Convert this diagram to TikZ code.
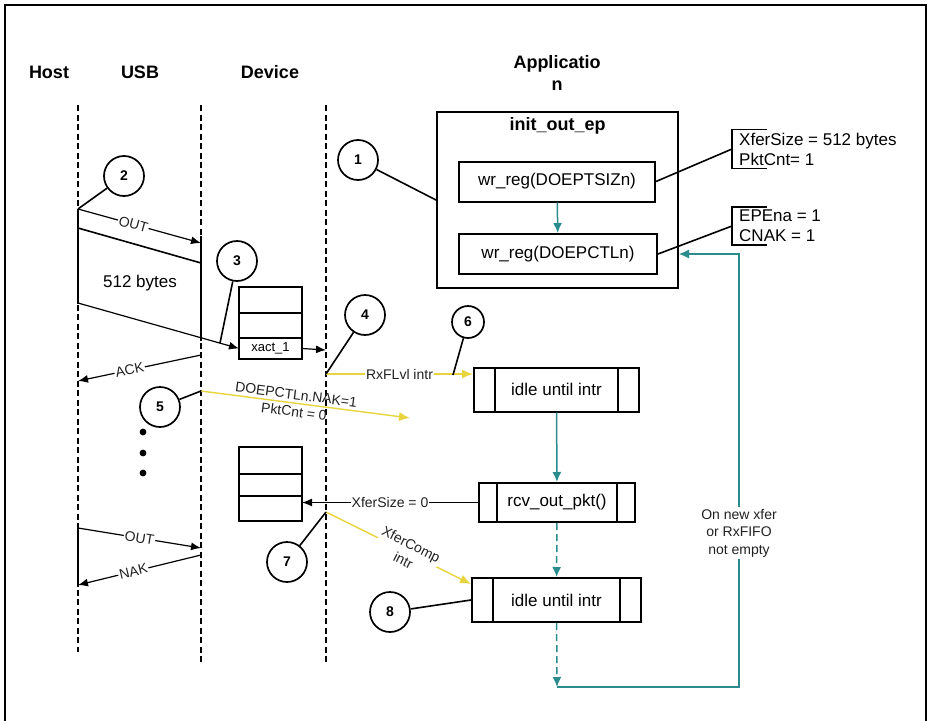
\documentclass[tikz,border=0pt]{standalone}
\usepackage{fontspec}
\setmainfont{Liberation Sans}
\usetikzlibrary{arrows.meta,positioning}
\definecolor{usbTeal}{HTML}{2A8C8C}
\definecolor{usbYellow}{HTML}{E8D43C}
\definecolor{usbInk}{HTML}{222222}

\begin{document}
\begin{tikzpicture}[x=1pt,y=-1pt,
    lane/.style={line width=2.2pt, dash pattern=on 6pt off 3.5pt},
    num/.style={draw, circle, line width=1.7pt, minimum size=40pt, inner sep=0pt,
      font=\fontsize{14}{14}\selectfont\bfseries},
    blk/.style={draw, line width=2pt, minimum height=40pt, font=\fontsize{17}{20}\selectfont},
    proc/.style={blk, minimum height=44pt},
    cell/.style={draw, line width=1.7pt, minimum width=63pt, inner sep=0pt, outer sep=0pt,
      font=\fontsize{13}{13}\selectfont},
    lbl/.style={font=\fontsize{14}{16}\selectfont, text=usbInk, fill=white, inner sep=1pt},
    ttl/.style={font=\fontsize{18}{22}\selectfont\bfseries, align=center},
    note/.style={font=\fontsize{17}{20}\selectfont, align=left, inner xsep=7pt, inner ysep=3pt},
    msg/.style={-{Latex[length=10pt,width=8pt]}, line width=1.2pt},
    ylw/.style={-{Latex[length=11pt,width=9pt]}, line width=1.4pt, usbYellow},
    tel/.style={-{Latex[length=10pt,width=9pt]}, line width=1.5pt, usbTeal},
    lead/.style={line width=1.6pt}]
  \useasboundingbox (0,0) rectangle (928,720);
  \draw[line width=1.2pt] (5,722) -- (5,5) -- (926,5) -- (926,722);

  % column titles and lifelines
  \node[ttl] (host) at (49,72) {Host};
  \node[ttl] (usb) at (140,72) {USB};
  \node[ttl] (dev) at (270,72) {Device};
  \node[ttl] (app) at (557,73) {Applicatio\\n};
  \coordinate (hostT) at (78,105);  \coordinate (hostB) at (78,652);
  \coordinate (usbT) at (201,105);  \coordinate (usbB) at (201,663);
  \coordinate (devT) at (326,105);  \coordinate (devB) at (326,663);
  \draw[lane] (hostT) -- (hostB);
  \draw[lane] (usbT) -- (usbB);
  \draw[lane] (devT) -- (devB);
  \draw[line width=2.2pt] (78,209) -- (78,304) (78,528) -- (78,587);
  \draw[line width=2.2pt] (201,236) -- (201,341);

  % application side
  \node[draw, line width=2pt, minimum width=241pt, minimum height=176pt] (init) at (557.5,200) {};
  \node[font=\fontsize{18}{20}\selectfont\bfseries, below=3pt of init.north] (initT) {init\_out\_ep};
  \node[blk, minimum width=196pt] (tsiz) at (557,181.5) {wr\_reg(DOEPTSIZn)};
  \node[blk, minimum width=198pt] (ctl) at (558,254) {wr\_reg(DOEPCTLn)};
  \draw[tel] (tsiz) -- (ctl);

  \node[note, anchor=west] (sizN) at (732,149) {XferSize = 512 bytes\\PktCnt= 1};
  \node[note, anchor=west] (ctlN) at (732,226) {EPEna = 1\\CNAK = 1};
  \draw[lead] ([xshift=35pt]sizN.north west) -| (sizN.south west) -- ++(35,0);
  \draw[lead] ([xshift=35pt]ctlN.north west) -| (ctlN.south west) -- ++(35,0);
  \draw[lead] (tsiz.east) -- (sizN.west);
  \draw[lead] (ctl.east) -- (ctlN.west);

  \node[proc, minimum width=165pt] (idleA) at (556.5,389.5) {idle until intr};
  \node[blk, minimum width=156pt, minimum height=39pt] (rcv) at (557,502.5) {rcv\_out\_pkt()};
  \node[proc, minimum width=169pt] (idleB) at (556.5,600) {idle until intr};
  \foreach \b/\d in {idleA/22pt, rcv/19pt, idleB/22pt} {
    \draw[line width=2pt] ([xshift=\d]\b.north west) -- ([xshift=\d]\b.south west);
    \draw[line width=2pt] ([xshift=-\d]\b.north east) -- ([xshift=-\d]\b.south east);
  }
  \coordinate (loopB) at (557,687);
  \draw[tel] (idleA) -- (rcv);
  \draw[tel, dash pattern=on 7pt off 4pt] (rcv) -- (idleB);
  \draw[tel, dash pattern=on 7pt off 4pt] (idleB) -- (loopB);
  \draw[-{Latex[length=10pt,width=9pt]}, line width=1.1pt, usbTeal]
    (loopB) -- (739,687) |- (init.east |- ctl.east);
  \node[lbl, align=center, inner sep=2pt, font=\fontsize{14}{17.5}\selectfont] (cond) at (739,533)
    {On new xfer\\or RxFIFO\\not empty};

  % host / usb exchange
  \coordinate (h1) at (78,209);  \coordinate (u1) at (201,243);
  \coordinate (h2) at (78,228);  \coordinate (u2) at (201,263);
  \coordinate (h3) at (78,303);
  \coordinate (u3) at (201,355); \coordinate (h4) at (78,381);
  \coordinate (u4) at (201,391); \coordinate (nakEnd) at (410,418);
  \coordinate (h5) at (78,528);  \coordinate (u5) at (201,548);
  \coordinate (u6) at (201,555); \coordinate (h6) at (78,585);
  \coordinate (d1) at (326,350); \coordinate (d2) at (326,374);
  \coordinate (d3) at (326,512);

  \node[cell, minimum height=26pt] (fa1) at (270.5,300) {};
  \node[cell, minimum height=25pt, below=0pt of fa1] (fa2) {};
  \node[cell, minimum height=21pt, below=0pt of fa2] (xact) {xact\_1};
  \node[cell, minimum height=27pt] (fb1) at (270.5,460.5) {};
  \node[cell, minimum height=22pt, below=0pt of fb1] (fb2) {};
  \node[cell, minimum height=25pt, below=0pt of fb2] (fb3) {};

  \draw[msg] (h1) -- (u1) node[pos=0.45, sloped, lbl] {OUT};
  \draw[lead] (h2) -- (u2);
  \draw[msg] (h3) -- (xact.west);
  \node[font=\fontsize{17}{20}\selectfont] (bytes) at (140,283) {512 bytes};
  \draw[msg] (xact.east) -- (d1);
  \draw[msg] (u3) -- (h4) node[pos=0.58, sloped, lbl] {ACK};
  \draw[ylw] (u4) -- (nakEnd) node[pos=0.45, sloped, align=center, text=usbInk,
    font=\fontsize{14}{17}\selectfont] {DOEPCTLn.NAK=1\\PktCnt = 0};
  \foreach \y in {432,453,473} \fill (143,\y) circle (3.4pt);
  \draw[ylw] (d2) -- (d2 -| idleA.west) node[pos=0.5, lbl] {RxFLvl intr};
  \draw[msg] (rcv.west) -- (rcv.west -| fb3.east) node[midway, lbl] {XferSize = 0};
  \draw[ylw] (d3) -- ([yshift=-7pt]idleB.north west) node[pos=0.56, sloped, lbl, align=center,
    font=\fontsize{14}{18}\selectfont] {XferComp\\intr};
  \draw[msg] (h5) -- (u5) node[pos=0.5, sloped, lbl] {OUT};
  \draw[msg] (u6) -- (h6) node[pos=0.55, sloped, lbl] {NAK};

  % numbered callouts
  \node[num] (one) at (358,160) {1};
  \node[num] (two) at (124,176) {2};
  \node[num] (three) at (237,261) {3};
  \node[num] (four) at (365,315) {4};
  \node[num] (five) at (160,407) {5};
  \node[num, minimum size=32pt] (six) at (468,322) {6};
  \node[num] (seven) at (287,562) {7};
  \node[num] (eight) at (390,612) {8};
  \coordinate (c3) at (220,343);
  \coordinate (c6) at (453,375);
  \draw[lead] (one) -- (init.west);
  \draw[lead] (two) -- (h1);
  \draw[lead] (three) -- (c3);
  \draw[lead] (four) -- (d2);
  \draw[lead] (five) -- (u4);
  \draw[lead] (six) -- (c6);
  \draw[lead] (seven) -- (d3);
  \draw[lead] (eight) -- (idleB.west);
\end{tikzpicture}
\end{document}
